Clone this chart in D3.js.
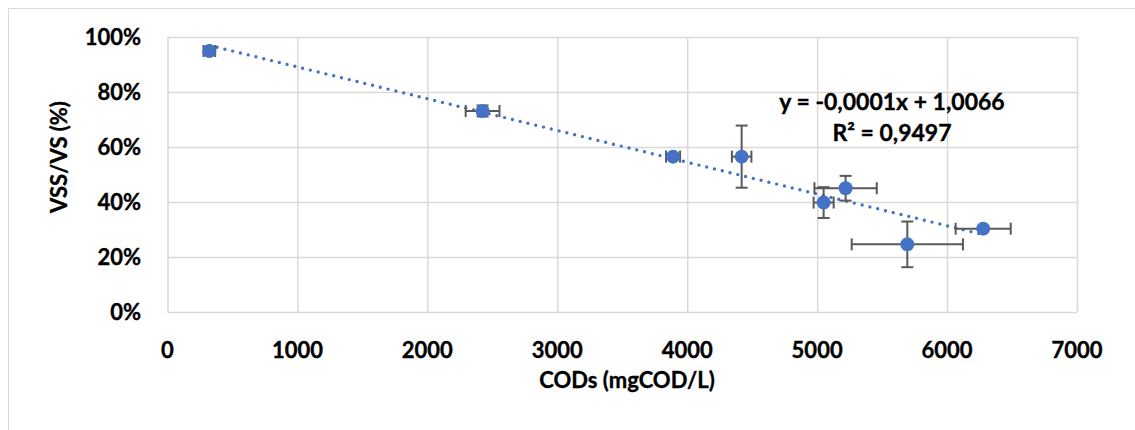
<!DOCTYPE html>
<html>
<head>
<meta charset="utf-8">
<script src="https://cdn.jsdelivr.net/npm/d3@7"></script>
<style>
  body { margin: 0; background: #fff; }
  svg { display: block; }
  text { font-family: Lato, "Open Sans", sans-serif; font-weight: bold; fill: #000; stroke: #000; stroke-width: 0.35px; }
</style>
</head>
<body>
<svg id="chart" width="1135" height="430"></svg>
<script>
// values
const cods = [322, 2425, 3891, 4419, 5050, 5219, 5694, 6278];
const vssRatio = [0.949, 0.731, 0.565, 0.565, 0.398, 0.450, 0.246, 0.303];
const codsErr = [45, 130, 54, 75, 77, 240, 428, 212];
const ratioErr = [0.015, 0.02, 0.005, 0.113, 0.056, 0.045, 0.083, 0.005];
const xTicks = [0, 1000, 2000, 3000, 4000, 5000, 6000, 7000];
const yTicks = [0, 0.2, 0.4, 0.6, 0.8, 1.0];
const equationLines = ["y = -0,0001x + 1,0066", "R\u00b2 = 0,9497"];

const svg = d3.select("#chart");
const plotLeft = 167.5, plotRight = 1077, plotTop = 37, plotBottom = 312;

// outer frame
svg.append("rect")
  .attr("x", 8.5).attr("y", 8.5)
  .attr("width", 1300).attr("height", 600)
  .attr("fill", "none").attr("stroke", "#d9d9d9").attr("stroke-width", 1);

let x = d3.scaleLinear().domain([0, 7000]).range([plotLeft, plotRight]);
let y = d3.scaleLinear().domain([0, 1]).range([plotBottom, plotTop]);

// grid
svg.append("g").attr("transform", `translate(0,${plotBottom})`)
  .call(d3.axisBottom(x).tickValues(xTicks).tickSize(-(plotBottom - plotTop)).tickFormat(""));
svg.append("g").attr("transform", `translate(${plotLeft},0)`)
  .call(d3.axisLeft(y).tickValues(yTicks).tickSize(-(plotRight - plotLeft)).tickFormat(""));
svg.selectAll(".domain").remove();
svg.selectAll(".tick line").attr("stroke", "#d9d9d9").attr("stroke-width", 1.5);

// tick labels
svg.append("g").selectAll("text").data(xTicks).enter().append("text")
  .attr("x", d => x(d)).attr("y", 358)
  .attr("text-anchor", "middle").style("font-size", "22px")
  .text(d => d);
svg.append("g").selectAll("text").data(yTicks).enter().append("text")
  .attr("x", 141).attr("y", d => y(d) + 8)
  .attr("text-anchor", "end").style("font-size", "22px")
  .text(d => Math.round(d * 100) + "%");

// axis titles
svg.append("text").attr("x", 627).attr("y", 388)
  .attr("text-anchor", "middle").style("font-size", "22px")
  .text("CODs (mgCOD/L)");
svg.append("text")
  .attr("transform", "translate(67,157) rotate(-90)")
  .attr("text-anchor", "middle").style("font-size", "22px")
  .text("VSS/VS (%)");

// linear trendline from least squares
let mx = d3.mean(cods), my = d3.mean(vssRatio);
let sxy = d3.sum(cods, (c, i) => (c - mx) * (vssRatio[i] - my));
let sxx = d3.sum(cods, c => (c - mx) * (c - mx));
let slope = sxy / sxx, icpt = my - slope * mx;
let ext = d3.extent(cods);
svg.append("line")
  .attr("x1", x(ext[0])).attr("y1", y(icpt + slope * ext[0]))
  .attr("x2", x(ext[1])).attr("y2", y(icpt + slope * ext[1]))
  .attr("stroke", "#4472c4").attr("stroke-width", 3.4)
  .attr("stroke-linecap", "round").attr("stroke-dasharray", "0,8");

// error bars
let pts = cods.map((c, i) => ({x: c, y: vssRatio[i], ex: codsErr[i], ey: ratioErr[i]}));
let eb = svg.append("g").attr("stroke", "#595959").attr("stroke-width", 2).attr("fill", "none");
pts.forEach(d => {
  let cx = x(d.x), cy = y(d.y);
  let x0 = x(d.x - d.ex), x1 = x(d.x + d.ex);
  let y0 = y(d.y - d.ey), y1 = y(d.y + d.ey);
  eb.append("line").attr("x1", x0).attr("x2", x1).attr("y1", cy).attr("y2", cy);
  eb.append("line").attr("x1", x0).attr("x2", x0).attr("y1", cy - 6).attr("y2", cy + 6);
  eb.append("line").attr("x1", x1).attr("x2", x1).attr("y1", cy - 6).attr("y2", cy + 6);
  eb.append("line").attr("x1", cx).attr("x2", cx).attr("y1", y0).attr("y2", y1);
  eb.append("line").attr("x1", cx - 6).attr("x2", cx + 6).attr("y1", y0).attr("y2", y0);
  eb.append("line").attr("x1", cx - 6).attr("x2", cx + 6).attr("y1", y1).attr("y2", y1);
});

// markers
svg.append("g").selectAll("circle").data(pts).enter().append("circle")
  .attr("cx", d => x(d.x)).attr("cy", d => y(d.y)).attr("r", 7)
  .attr("fill", "#4472c4");

// equation label
svg.append("g").selectAll("text").data(equationLines).enter().append("text")
  .attr("x", 892).attr("y", (d, i) => 110 + i * 31)
  .attr("text-anchor", "middle").style("font-size", "23px")
  .text(d => d);
</script>
</body>
</html>
